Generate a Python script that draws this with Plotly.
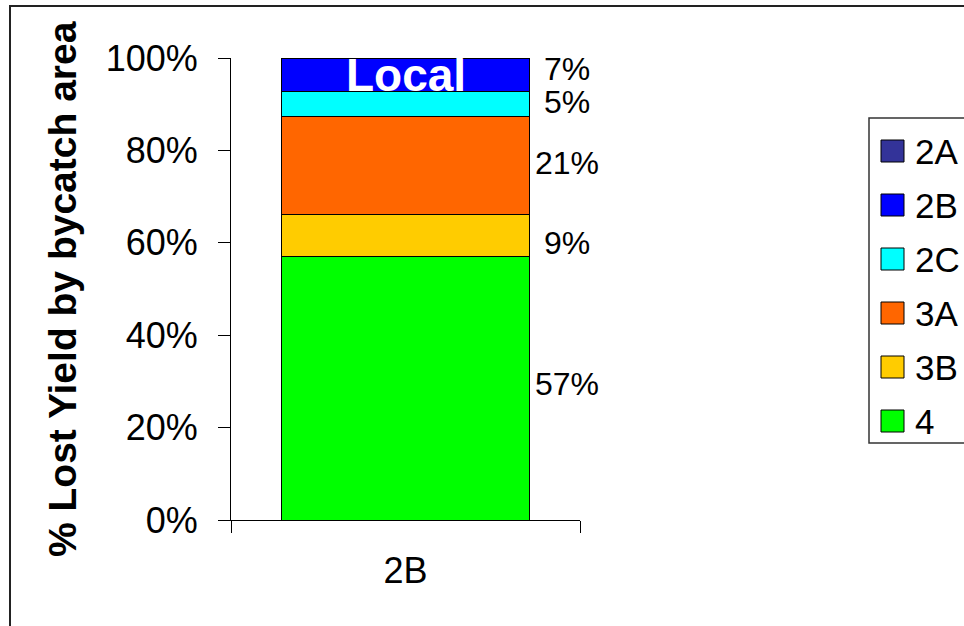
import plotly.graph_objects as go

# Share of lost yield by bycatch area, for the 2B regulatory area
category = ["2B"]
areas = ["2A", "2B", "2C", "3A", "3B", "4"]
shares = [0.0, 0.072, 0.054, 0.212, 0.091, 0.571]
colors = ["#333399", "#0000FF", "#00FFFF", "#FF6600", "#FFCC00", "#00FF00"]
y_ticks = [0, 0.2, 0.4, 0.6, 0.8, 1.0]
# vertical nudge (px) of each value label, by area
label_nudge = [0, 6, 2, 2, -8, 4]

FONT = "Liberation Sans, Arial, Helvetica, sans-serif"
W, H = 964, 626
L, R, T, B = 231, 384, 58, 106
PW, PH = W - L - R, H - T - B


def px_x(px):
    return (px - L) / PW


def px_y(py):
    return (H - B - py) / PH


fig = go.Figure()

# stack from the bottom (area 4) upwards
total = sum(shares)
for name, val, col in reversed(list(zip(areas, shares, colors))):
    fig.add_trace(go.Bar(
        x=category, y=[val / total], name=name,
        marker=dict(color=col, line=dict(color="black", width=1)),
        width=0.71, showlegend=False,
        hoverinfo="name+y",
    ))

annotations = []
shapes = []

# value labels to the right of the bar
base = 0.0
for name, val, nudge in reversed(list(zip(areas, shares, label_nudge))):
    frac = val / total
    if frac > 0:
        annotations.append(dict(
            x=px_x(567), xref="paper", y=base + frac / 2, yref="y",
            text=f"{round(frac * 100):.0f}%", showarrow=False,
            xanchor="center", yanchor="middle", yshift=nudge,
            font=dict(family=FONT, size=32, color="black"),
        ))
    base += frac

# caption on top of the bar
annotations.append(dict(
    x=0, xref="x", y=px_y(75), yref="paper", text="<b>Local</b>",
    showarrow=False, xanchor="center", yanchor="middle",
    font=dict(family=FONT, size=46, color="white"),
))

# y-axis title
annotations.append(dict(
    x=px_x(62), xref="paper", y=0.5, yref="paper",
    text="<b>% Lost Yield by bycatch area</b>", textangle=-90,
    showarrow=False, xanchor="center", yanchor="middle",
    font=dict(family=FONT, size=39, color="black"),
))

# outer chart frame
shapes.append(dict(
    type="rect", xref="paper", yref="paper",
    x0=px_x(10), x1=px_x(1100), y0=px_y(700), y1=px_y(6),
    line=dict(color="#222222", width=2), fillcolor="rgba(0,0,0,0)",
))

# legend box with swatches
shapes.append(dict(
    type="rect", xref="paper", yref="paper",
    x0=px_x(869), x1=px_x(1100), y0=px_y(443), y1=px_y(118),
    line=dict(color="#333333", width=1.5), fillcolor="white",
))
for i, (name, col) in enumerate(zip(areas, colors)):
    cy = 151 + i * 54
    shapes.append(dict(
        type="rect", xref="paper", yref="paper",
        x0=px_x(881), x1=px_x(904), y0=px_y(cy + 11), y1=px_y(cy - 11),
        line=dict(color="black", width=1), fillcolor=col,
    ))
    annotations.append(dict(
        x=px_x(913), xref="paper", y=px_y(cy), yref="paper",
        text=name, showarrow=False, xanchor="left", yanchor="middle",
        font=dict(family=FONT, size=35, color="black"),
    ))

fig.update_layout(
    width=W, height=H, autosize=False,
    margin=dict(l=L, r=R, t=T, b=B, pad=0),
    paper_bgcolor="white", plot_bgcolor="white",
    barmode="stack", bargap=0.29,
    showlegend=False,
    font=dict(family=FONT, size=32, color="black"),
    annotations=annotations, shapes=shapes,
    xaxis=dict(
        type="category", range=[-0.5, 0.5],
        showline=True, linecolor="black", linewidth=1,
        ticks="outside", tickson="boundaries", ticklen=12,
        tickcolor="black", tickwidth=1,
        showgrid=False, zeroline=False,
        tickfont=dict(family=FONT, size=36, color="black"),
        ticklabelstandoff=19,
    ),
    yaxis=dict(
        range=[0, 1], tickvals=y_ticks, tickformat=".0%",
        showline=True, linecolor="black", linewidth=1,
        ticks="outside", ticklen=12, tickcolor="black", tickwidth=1,
        showgrid=False, zeroline=False,
        tickfont=dict(family=FONT, size=36, color="black"),
        ticklabelstandoff=13,
    ),
)

fig.write_html("out.html")
